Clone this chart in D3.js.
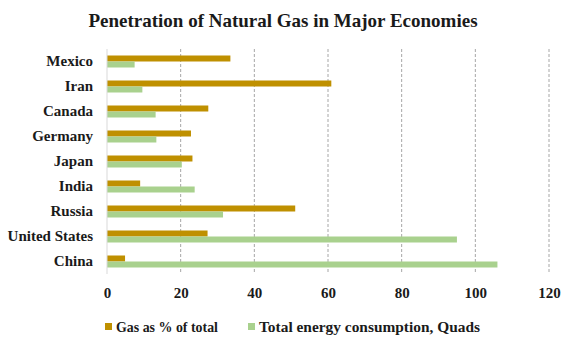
<!DOCTYPE html>
<html>
<head>
<meta charset="utf-8">
<script src="https://cdn.jsdelivr.net/npm/d3@7"></script>
<style>
body { margin: 0; background: #fff; }
text { font-family: "Liberation Serif", "DejaVu Serif", serif; font-weight: bold; fill: #1a1a1a; }
</style>
</head>
<body>
<script>
'use strict';
let countries = ['Mexico', 'Iran', 'Canada', 'Germany', 'Japan', 'India', 'Russia', 'United States', 'China'];
let gasShare = [33.5, 60.9, 27.5, 22.8, 23.2, 9.0, 51.1, 27.3, 4.9];
let totalQuads = [7.5, 9.6, 13.2, 13.4, 20.3, 23.8, 31.5, 95.0, 106.0];
let xTicks = [0, 20, 40, 60, 80, 100, 120];
let seriesNames = ['Gas as % of total', 'Total energy consumption, Quads'];
let colors = ['#BF9000', '#A9D18E'];

let width = 570, height = 342;
let margin = {left: 107, right: 21, top: 49, bottom: 68};

let svg = d3.select('body').append('svg').attr('width', width).attr('height', height);

svg.append('text')
	.attr('x', 283).attr('y', 27)
	.attr('text-anchor', 'middle')
	.style('font-size', '19px')
	.text('Penetration of Natural Gas in Major Economies');

let x = d3.scaleLinear().domain([0, 120]).range([margin.left, width - margin.right]);
let y = d3.scaleBand().domain(countries).range([margin.top, height - margin.bottom]);
let barH = 6;

// dashed gridlines
svg.append('g').selectAll('line')
	.data(xTicks.slice(1))
	.enter().append('line')
	.attr('x1', d => x(d)).attr('x2', d => x(d))
	.attr('y1', margin.top).attr('y2', height - margin.bottom)
	.attr('stroke', '#a6a6a6').attr('stroke-width', 1)
	.attr('stroke-dasharray', '3,2');

let rows = countries.map((c, i) => ({name: c, gas: gasShare[i], total: totalQuads[i]}));

let chart = svg.append('g');
chart.selectAll('.gas').data(rows).enter().append('rect')
	.attr('class', 'gas')
	.attr('x', x(0))
	.attr('y', d => y(d.name) + y.bandwidth() / 2 - barH)
	.attr('width', d => x(d.gas) - x(0))
	.attr('height', barH)
	.attr('fill', colors[0]);

chart.selectAll('.total').data(rows).enter().append('rect')
	.attr('class', 'total')
	.attr('x', x(0))
	.attr('y', d => y(d.name) + y.bandwidth() / 2)
	.attr('width', d => x(d.total) - x(0))
	.attr('height', barH)
	.attr('fill', colors[1]);

// axis line at zero
svg.append('line')
	.attr('x1', x(0)).attr('x2', x(0))
	.attr('y1', margin.top).attr('y2', height - margin.bottom)
	.attr('stroke', '#d9d9d9');

let yAxis = svg.append('g')
	.attr('transform', 'translate(' + (x(0) - 6) + ',0)')
	.call(d3.axisLeft(y).tickSize(0).tickPadding(8));
yAxis.select('.domain').remove();
yAxis.selectAll('text').style('font-size', '15px').attr('fill', '#1a1a1a');

let xAxis = svg.append('g')
	.attr('transform', 'translate(0,' + (height - margin.bottom) + ')')
	.call(d3.axisBottom(x).tickValues(xTicks).tickSize(0).tickPadding(13));
xAxis.select('.domain').remove();
xAxis.selectAll('text').style('font-size', '15px').attr('fill', '#1a1a1a');

// legend
let legendX = [105, 248];
let legendW = [102, 221];
let legend = svg.append('g').selectAll('g')
	.data(seriesNames)
	.enter().append('g')
	.attr('transform', (d, i) => 'translate(' + legendX[i] + ',323)');
legend.append('rect').attr('width', 7).attr('height', 7).attr('fill', (d, i) => colors[i]);
legend.append('text')
	.attr('x', 11).attr('y', 8.5)
	.style('font-size', '14.5px')
	.attr('textLength', (d, i) => legendW[i])
	.attr('lengthAdjust', 'spacingAndGlyphs')
	.text(d => d);
</script>
</body>
</html>
